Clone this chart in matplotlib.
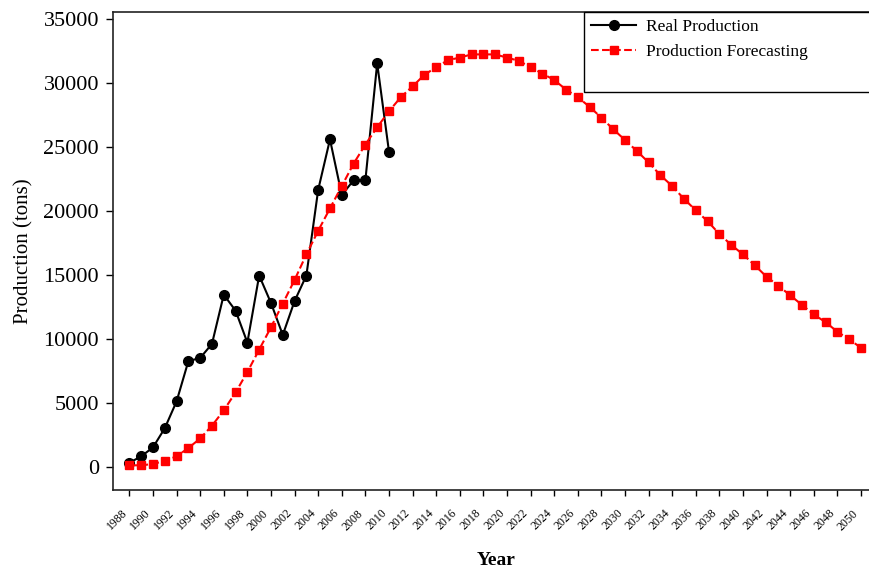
import matplotlib
matplotlib.use("Agg")
import matplotlib.pyplot as plt
from matplotlib.lines import Line2D

plt.rcParams["font.family"] = ["Liberation Serif", "DejaVu Serif"]

# Real production, 1988-2010
real_years = list(range(1988, 2011))
real_prod = [300, 800, 1500, 3000, 5100, 8250, 8500, 9600, 13450, 12200,
             9700, 14950, 12800, 10300, 12950, 14950, 21650, 25600, 21250,
             22400, 22400, 31550, 24650]

# Forecast, 1988-2050
fc_years = list(range(1988, 2051))
fc_prod = [100, 100, 200, 450, 800, 1450, 2200, 3200, 4400, 5800,
           7400, 9150, 10900, 12750, 14600, 16600, 18450, 20200, 21950, 23700,
           25200, 26550, 27800, 28900, 29750, 30650, 31250, 31800, 32000, 32250,
           32250, 32250, 32000, 31750, 31250, 30750, 30250, 29500, 28900, 28150,
           27300, 26400, 25550, 24700, 23800, 22800, 21950, 20950, 20050, 19200,
           18200, 17350, 16600, 15750, 14850, 14150, 13400, 12650, 11900, 11300,
           10550, 9950, 9300]

year_ticks = list(range(1988, 2051, 2))
prod_ticks = list(range(0, 35001, 5000))

fig = plt.figure(figsize=(8.69, 5.7), dpi=100)
ax = fig.add_axes([0.130, 0.1404, 0.8734, 0.8386])

ax.plot(real_years, real_prod, color="black", linewidth=1.5,
        marker="o", markersize=7, label="Real Production")
ax.plot(fc_years, fc_prod, color="red", linewidth=1.5, linestyle="--",
        marker="s", markersize=5.5, label="Production Forecasting")

ax.set_xlim(1986.61, 2050.93)
ax.set_ylim(-1830, 35570)
ax.set_xticks(year_ticks)
ax.set_xticklabels([str(y) for y in year_ticks], rotation=45, ha="right",
                   fontsize=8.5)
ax.set_yticks(prod_ticks)
ax.tick_params(axis="y", labelsize=16, direction="out", length=5, width=1, pad=5)
ax.tick_params(axis="x", direction="out", length=4.5, width=1, pad=8)

for s in ax.spines.values():
    s.set_linewidth(1.2)
    s.set_color("#222222")

ax.set_ylabel("Production (tons)", fontsize=15)
ax.yaxis.set_label_coords(-0.105, 0.5)
ax.set_xlabel("Year", fontsize=14, fontweight="bold")
ax.xaxis.set_label_coords(0.505, -0.13)

handles, labels = ax.get_legend_handles_labels()
handles.append(Line2D([], [], linestyle="none"))
labels.append(" ")
leg = ax.legend(handles, labels, loc="upper left",
                bbox_to_anchor=(0.6206, 0.0, 0.45, 1.0), mode="expand",
                borderaxespad=0, fontsize=12.5,
                frameon=True, fancybox=False, framealpha=1,
                edgecolor="black", handlelength=2.6, handletextpad=0.6,
                borderpad=0.4, labelspacing=0.5)
leg.get_frame().set_linewidth(1.0)

fig.savefig("out.png", dpi=100)
